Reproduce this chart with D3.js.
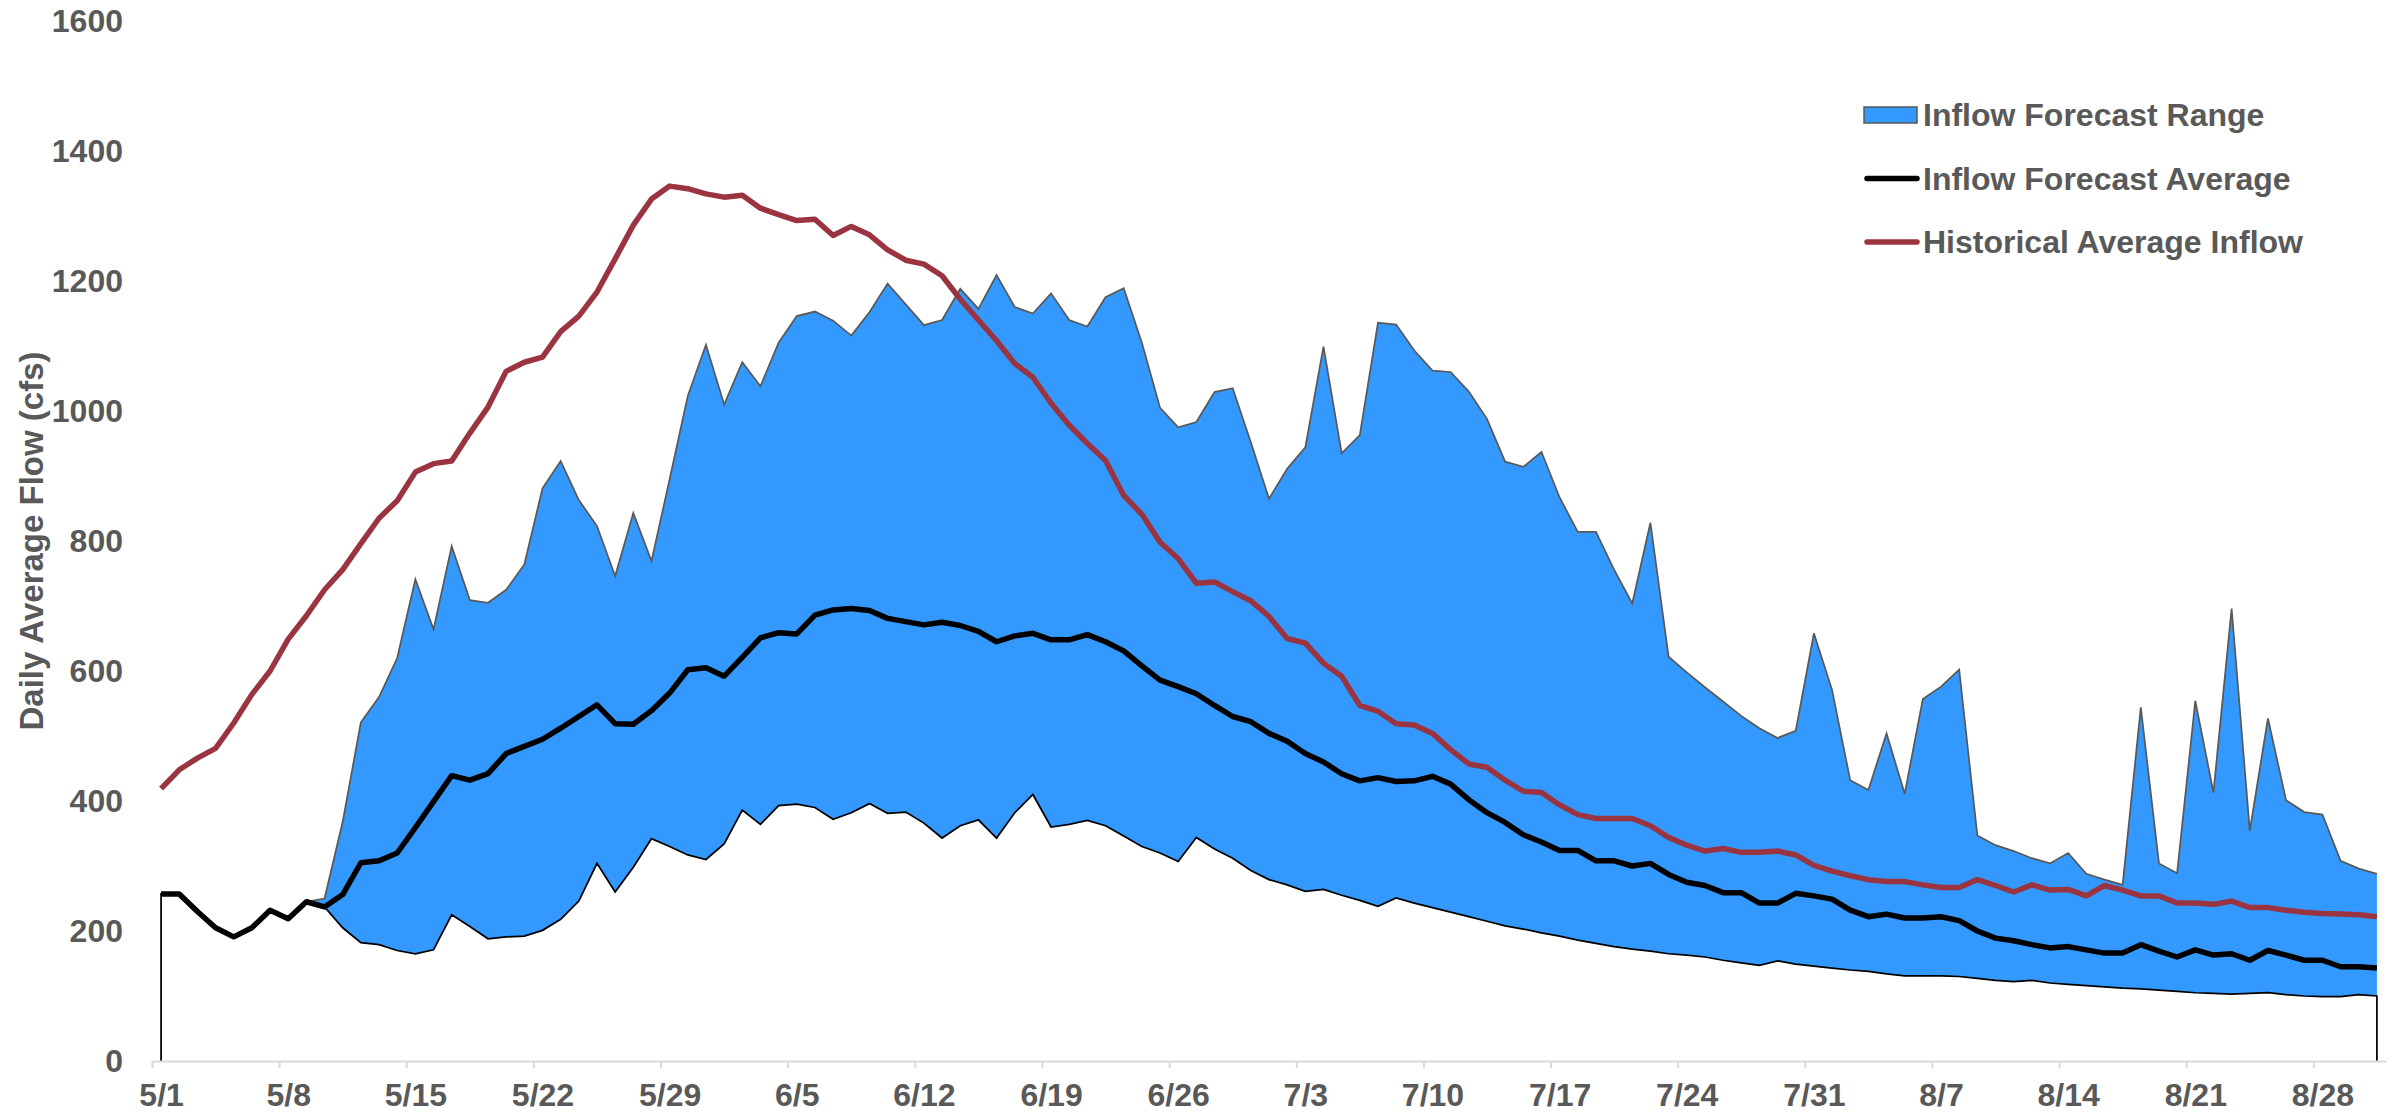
<!DOCTYPE html>
<html>
<head>
<meta charset="utf-8">
<title>Daily Average Flow</title>
<script src="https://cdnjs.cloudflare.com/ajax/libs/d3/7.8.5/d3.min.js"></script>
<style>
    body { margin: 0; background: #fff; }
    svg text { font-family: "Liberation Sans", Arial, sans-serif; font-weight: bold; }
</style>
</head>
<body>
<div id="chart"></div>
<script>
// one value per day, 5/1 .. 8/31
var startDate = new Date(2019, 4, 1);

var forecastAvg = [
    257, 257, 230, 205, 191, 205, 232, 219, 245, 237,
    256, 305, 308, 320, 359, 399, 439, 432, 442, 473,
    484, 495, 512, 530, 548, 519, 518, 539, 566, 602,
    605, 592, 621, 651, 659, 657, 686, 694, 696, 693,
    681, 676, 671, 675, 670, 661, 645, 654, 658, 648,
    648, 656, 645, 631, 608, 586, 576, 565, 547, 530,
    522, 504, 492, 473, 460, 442, 431, 436, 430, 431,
    438, 426, 402, 382, 367, 348, 337, 324, 324, 308,
    308, 300, 304, 287, 275, 270, 259, 259, 243, 243,
    258, 254, 249, 232, 222, 226, 220, 220, 222, 216,
    200, 189, 185, 179, 174, 176, 171, 166, 166, 179,
    169, 160, 171, 163, 165, 155, 170, 163, 155, 155,
    145, 145, 143
];

var forecastLow = [
    257, 257, 230, 205, 191, 205, 232, 219, 245, 237,
    205, 182, 179, 170, 165, 171, 225, 207, 188, 191,
    192, 201, 218, 246, 304, 260, 298, 342, 330, 317,
    310, 334, 386, 364, 393, 395, 390, 372, 382, 396,
    381, 383, 366, 343, 362, 371, 343, 382, 410, 360,
    364, 370, 362, 346, 330, 320, 307, 344, 326, 312,
    293, 279, 271, 261, 264, 255, 247, 238, 251, 243,
    236, 229, 222, 215, 208, 203, 197, 192, 186, 181,
    176, 172, 169, 165, 163, 160, 155, 151, 147, 154,
    149, 146, 143, 140, 138, 134, 131, 131, 131, 130,
    127, 124, 122, 124, 120, 118, 116, 114, 112, 111,
    109, 107, 105, 104, 103, 104, 105, 102, 100, 99,
    99, 102, 100
];

var forecastHigh = [
    257, 257, 230, 205, 191, 205, 232, 219, 245, 250,
    368, 521, 560, 620, 741, 664, 792, 709, 705, 725,
    764, 881, 923, 863, 823, 746, 843, 769, 895, 1023,
    1102, 1010, 1075, 1038, 1105, 1146, 1153, 1139, 1116, 1152,
    1196, 1164, 1132, 1140, 1188, 1157, 1209, 1160, 1150, 1181,
    1140, 1130, 1175, 1189, 1105, 1005, 975, 983, 1029, 1035,
    952, 865, 911, 944, 1099, 935, 963, 1136, 1133, 1093,
    1062, 1060, 1030, 988, 922, 914, 937, 867, 814, 814,
    756, 704, 828, 622, 598, 575, 553, 531, 512, 497,
    508, 658, 571, 432, 417, 504, 411, 557, 576, 602,
    347, 332, 323, 312, 304, 320, 288, 279, 271, 544,
    304, 289, 554, 413, 696, 354, 527, 401, 383, 379,
    308, 296, 288
];

var historicalAvg = [
    419, 448, 466, 481, 520, 564, 600, 649, 685, 725,
    756, 796, 835, 862, 906, 919, 923, 966, 1006, 1061,
    1075, 1083, 1122, 1146, 1183, 1234, 1286, 1326, 1346, 1342,
    1334, 1329, 1332, 1312, 1302, 1293, 1295, 1270, 1284, 1271,
    1248, 1232, 1226, 1208, 1172, 1140, 1108, 1073, 1052, 1012,
    978, 950, 924, 870, 841, 798, 773, 735, 737, 722,
    708, 684, 650, 643, 612, 592, 547, 538, 519, 517,
    504, 479, 457, 452, 432, 415, 413, 394, 379, 373,
    373, 373, 362, 344, 332, 323, 327, 321, 321, 323,
    317, 301, 292, 285, 279, 276, 276, 271, 267, 267,
    279, 270, 260, 271, 263, 264, 254, 270, 263, 254,
    254, 243, 243, 241, 246, 236, 236, 232, 229, 227,
    226, 225, 222
];

var yTicks = [0, 200, 400, 600, 800, 1000, 1200, 1400, 1600];
var yTitle = "Daily Average Flow (cfs)";
var legendLabels = ["Inflow Forecast Range", "Inflow Forecast Average", "Historical Average Inflow"];

var o = {
    width: 2397,
    height: 1115,
    left: 152,
    right: 2386,
    top: 21,
    bottom: 1061,
    grey: "#595959",
    blue: "#3399ff",
    red: "#9b3441"
};

var days = forecastAvg.map(function (d, i) {
    return d3.timeDay.offset(startDate, i);
});

var rows = days.map(function (d, i) {
    return {
        date: d,
        avg: forecastAvg[i],
        low: forecastLow[i],
        high: forecastHigh[i],
        hist: historicalAvg[i]
    };
});

var x = d3.scaleTime()
        .domain([startDate, d3.timeDay.offset(startDate, days.length)])
        .range([o.left, o.right]),
    y = d3.scaleLinear()
        .domain([0, 1600])
        .range([o.bottom, o.top]);

// points sit in the middle of each day
var mid = function (d) {
    return x(d3.timeHour.offset(d, 12));
};
var halfDay = (x(days[1]) - x(days[0])) / 2;

var svg = d3.select("#chart").append("svg")
    .attr("width", o.width)
    .attr("height", o.height);

// range band
var band = d3.area()
    .x(function (d) { return mid(d.date); })
    .y0(function (d) { return y(d.low); })
    .y1(function (d) { return y(d.high); });

svg.append("path")
    .datum(rows)
    .attr("d", band)
    .attr("fill", o.blue);

svg.append("path")
    .datum(rows)
    .attr("d", d3.line()
        .x(function (d) { return mid(d.date); })
        .y(function (d) { return y(d.high); }))
    .attr("fill", "none")
    .attr("stroke", o.grey)
    .attr("stroke-width", 1.75);

// outline of the low series, closed down to zero at both ends
var lowEdge = [{date: days[0], v: 0}]
    .concat(rows.map(function (d) { return {date: d.date, v: d.low}; }))
    .concat([{date: days[days.length - 1], v: 0}]);

svg.append("path")
    .datum(lowEdge)
    .attr("d", d3.line()
        .x(function (d) { return mid(d.date); })
        .y(function (d) { return y(d.v); }))
    .attr("fill", "none")
    .attr("stroke", "#000")
    .attr("stroke-width", 1.75);

// axes
var xAxis = d3.axisBottom(x)
    .tickValues(d3.range(0, days.length, 7).map(function (i) { return days[i]; }))
    .tickFormat(d3.timeFormat("%-m/%-d"))
    .tickSize(7)
    .tickSizeOuter(0)
    .tickPadding(15);

var gx = svg.append("g")
    .attr("transform", "translate(0," + o.bottom + ")")
    .call(xAxis);

gx.select(".domain")
    .attr("stroke", "#d9d9d9")
    .attr("stroke-width", 2);
gx.selectAll(".tick line")
    .attr("stroke", "#d9d9d9")
    .attr("stroke-width", 2);
gx.selectAll(".tick text")
    .attr("x", halfDay)
    .attr("fill", o.grey)
    .attr("font-size", 32)
    .attr("font-family", null);

var yAxis = d3.axisLeft(y)
    .tickValues(yTicks)
    .tickFormat(d3.format("d"))
    .tickSize(0)
    .tickPadding(29);

var gy = svg.append("g")
    .attr("transform", "translate(" + o.left + ",0)")
    .call(yAxis);

gy.select(".domain").remove();
gy.selectAll(".tick text")
    .attr("fill", o.grey)
    .attr("font-size", 32)
    .attr("font-family", null);

svg.append("text")
    .attr("transform", "translate(31," + (o.top + o.bottom) / 2 + ") rotate(-90)")
    .attr("text-anchor", "middle")
    .attr("dy", "0.35em")
    .attr("font-size", 33)
    .attr("fill", o.grey)
    .text(yTitle);

// lines
var avgLine = d3.line()
    .x(function (d) { return mid(d.date); })
    .y(function (d) { return y(d.avg); });

var histLine = d3.line()
    .x(function (d) { return mid(d.date); })
    .y(function (d) { return y(d.hist); });

svg.append("path")
    .datum(rows)
    .attr("d", avgLine)
    .attr("fill", "none")
    .attr("stroke", "#000")
    .attr("stroke-width", 5.5)
    .attr("stroke-linejoin", "round");

svg.append("path")
    .datum(rows)
    .attr("d", histLine)
    .attr("fill", "none")
    .attr("stroke", o.red)
    .attr("stroke-width", 5.5)
    .attr("stroke-linejoin", "round");

// legend
var legend = svg.append("g")
    .attr("class", "legend");

var item = legend.selectAll("g.item")
    .data(legendLabels)
    .enter()
    .append("g")
    .classed("item", true)
    .attr("transform", function (d, i) {
        return "translate(1864," + (115 + i * 63.5) + ")";
    });

item.filter(function (d, i) { return i === 0; })
    .append("rect")
    .attr("x", 0)
    .attr("y", -8)
    .attr("width", 53)
    .attr("height", 16)
    .attr("fill", o.blue)
    .attr("stroke", o.grey)
    .attr("stroke-width", 1.5);

item.filter(function (d, i) { return i > 0; })
    .append("line")
    .attr("x1", 3)
    .attr("x2", 53)
    .attr("stroke", function (d, i) { return i === 0 ? "#000" : o.red; })
    .attr("stroke-width", 5.5)
    .attr("stroke-linecap", "round");

item.append("text")
    .attr("x", 59)
    .attr("dy", "0.35em")
    .attr("font-size", 32)
    .attr("fill", o.grey)
    .text(function (d) { return d; });
</script>
</body>
</html>
